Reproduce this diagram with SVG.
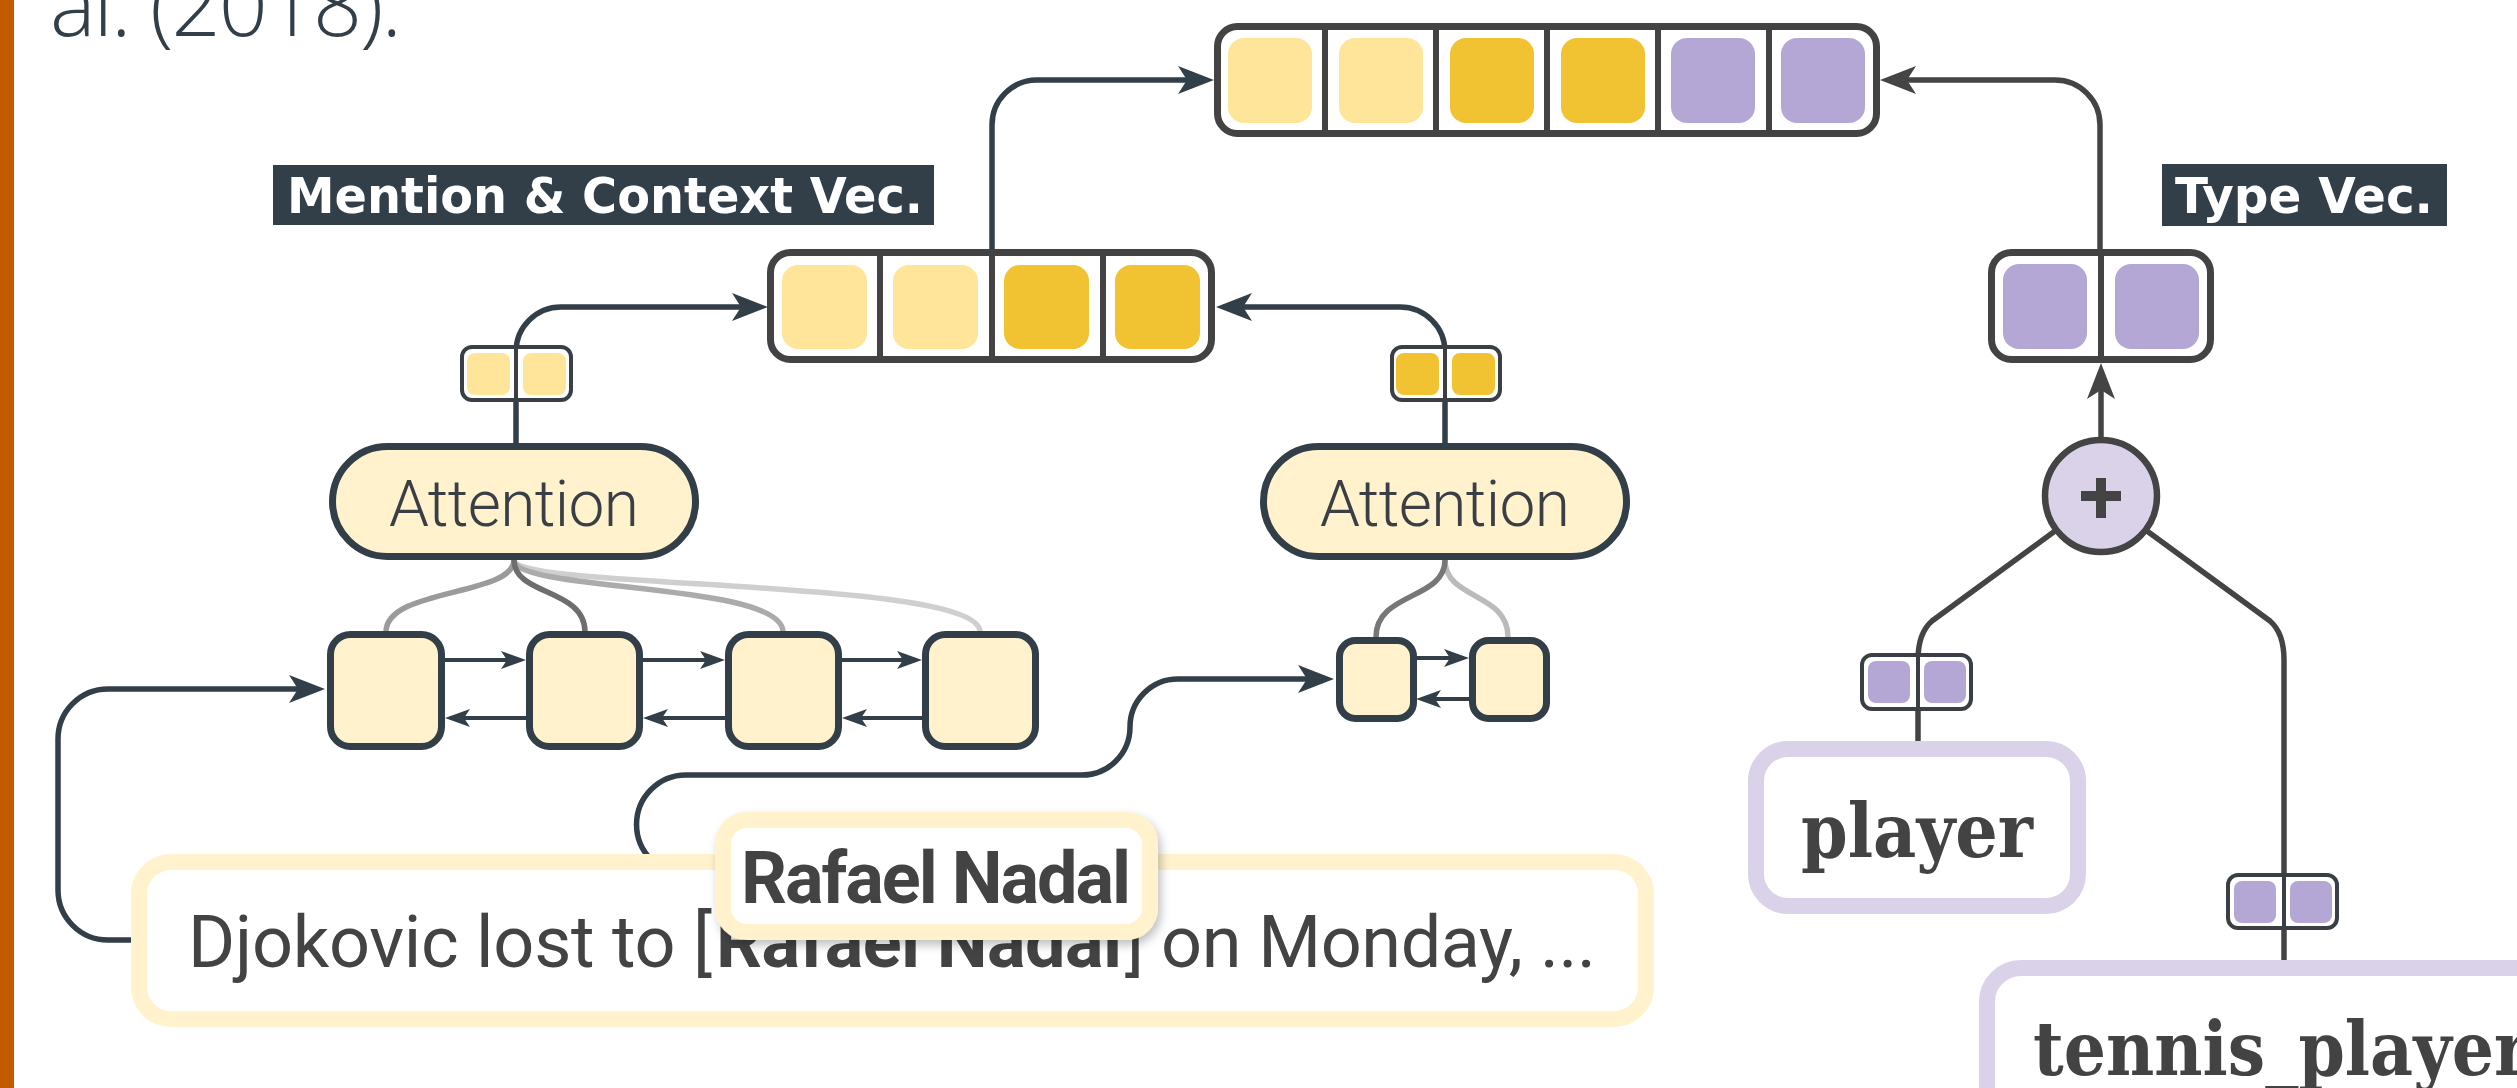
<svg xmlns="http://www.w3.org/2000/svg" width="2517" height="1088" viewBox="0 0 2517 1088">
  <style>
    .conn { fill: none; stroke: #323e48; stroke-width: 5.5; }
    .rnnlink { fill: none; stroke: #323e48; stroke-width: 4; }
    .branch { fill: none; stroke: #444444; stroke-width: 5.5; }
    .att { fill: none; stroke-width: 5.5; }
    .vec { fill: #ffffff; stroke: #434343; stroke-width: 7; }
    .vecs { fill: #ffffff; stroke: #3a3f46; stroke-width: 4; }
    .div { stroke: #434343; stroke-width: 6; }
    .divs { stroke: #3a3f46; stroke-width: 4; }
    .c-light { fill: #ffe599; }
    .c-gold { fill: #f1c232; }
    .c-purple { fill: #b4a7d6; }
    .rnn { fill: #fff2cc; stroke: #323e48; stroke-width: 7; }
    .pill { fill: #fff2cc; stroke: #323e48; stroke-width: 7; }
    .pilltext { font-family: Roboto, "Noto Sans", sans-serif; font-weight: 300; font-size: 64px; fill: #3a3f46; }
    .tag { fill: #323e48; }
    .tagtext { font-family: "DejaVu Sans", "Noto Sans", sans-serif; font-weight: bold; font-size: 50px; fill: #ffffff; }
    .sent { font-family: Roboto, "Noto Sans", sans-serif; font-size: 72px; fill: #434343; }
    .typebox { fill: #ffffff; stroke: #d9d2e9; stroke-width: 16; }
    .typetext { font-family: "DejaVu Serif", "Liberation Serif", serif; font-weight: bold; font-size: 74px; fill: #434343; }
  </style>
  <defs>
    <marker id="arrowL" viewBox="0 -15 38 30" markerWidth="38" markerHeight="30" refX="28" refY="0" markerUnits="userSpaceOnUse" orient="auto">
      <path d="M0,-14 L36,0 L0,14 L9,0 Z" fill="#323e48"/>
    </marker>
    <marker id="arrowS" viewBox="0 -10 27 20" markerWidth="27" markerHeight="20" refX="20" refY="0" markerUnits="userSpaceOnUse" orient="auto">
      <path d="M0,-9 L25,0 L0,9 L6,0 Z" fill="#323e48"/>
    </marker>
    <marker id="arrowG" viewBox="0 -15 38 30" markerWidth="38" markerHeight="30" refX="28" refY="0" markerUnits="userSpaceOnUse" orient="auto">
      <path d="M0,-14 L36,0 L0,14 L9,0 Z" fill="#444444"/>
    </marker>
    <filter id="shadow" x="-10%" y="-20%" width="130%" height="150%">
      <feDropShadow dx="3" dy="5" stdDeviation="5" flood-color="#000000" flood-opacity="0.25"/>
    </filter>
  </defs>

  <!-- page margin bar and caption tail -->
  <rect x="0" y="0" width="14" height="1088" fill="#c25a00"/>
  <text x="50" y="36" font-family="'Open Sans', 'Noto Sans', sans-serif" font-weight="300" font-size="86" fill="#323e48" textLength="352">al. (2018).</text>

  <!-- connectors -->
  <g id="connectors">
    <!-- attention weights, left encoder -->
    <path class="att" stroke="#cfcfcf" d="M514 560 C514 590 980 578 980 632"/>
    <path class="att" stroke="#ababab" d="M514 560 C514 592 783 582 783 632"/>
    <path class="att" stroke="#9b9b9b" d="M514 560 C514 596 386 588 386 632"/>
    <path class="att" stroke="#6e6e6e" d="M514 560 C514 596 585 588 585 632"/>
    <!-- attention weights, right encoder -->
    <path class="att" stroke="#bbbbbb" d="M1445 560 C1445 600 1508 592 1508 637"/>
    <path class="att" stroke="#777777" d="M1445 560 C1445 600 1376 592 1376 637"/>

    <!-- sentence / mention into the encoders -->
    <path class="conn" marker-end="url(#arrowL)" d="M131 940 H108 A50 50 0 0 1 58 890 V739 A50 50 0 0 1 108 689 H317"/>
    <path class="conn" marker-end="url(#arrowL)" d="M716 874 H686 A49.5 49.5 0 0 1 686 775 H1082 A48 48 0 0 0 1130 727 A48 48 0 0 1 1178 679 H1326"/>

    <!-- bidirectional recurrences -->
    <path class="rnnlink" marker-end="url(#arrowS)" d="M445 660 H521"/>
    <path class="rnnlink" marker-end="url(#arrowS)" d="M643 660 H720"/>
    <path class="rnnlink" marker-end="url(#arrowS)" d="M842 660 H917"/>
    <path class="rnnlink" marker-end="url(#arrowS)" d="M527 718 H450"/>
    <path class="rnnlink" marker-end="url(#arrowS)" d="M726 718 H648"/>
    <path class="rnnlink" marker-end="url(#arrowS)" d="M923 718 H847"/>
    <path class="rnnlink" marker-end="url(#arrowS)" d="M1416 658 H1464"/>
    <path class="rnnlink" marker-end="url(#arrowS)" d="M1469 699 H1421"/>

    <!-- attention outputs into the mention & context vector -->
    <path class="conn" marker-end="url(#arrowL)" d="M516 445 V352 A45 45 0 0 1 561 307 H760"/>
    <path class="conn" marker-end="url(#arrowL)" d="M1445 445 V352 A45 45 0 0 0 1400 307 H1224"/>

    <!-- into the joint vector -->
    <path class="conn" marker-end="url(#arrowL)" d="M992 252 V125 A45 45 0 0 1 1037 80 H1206"/>
    <path class="branch" marker-end="url(#arrowG)" d="M2100 252 V125 A45 45 0 0 0 2055 80 H1888"/>

    <!-- type embeddings summed -->
    <path class="branch" marker-end="url(#arrowG)" d="M2101 438 V371"/>
    <path class="branch" d="M2055 531 L1932 621 Q1918 633 1918 660 V741"/>
    <path class="branch" d="M2147 531 L2270 621 Q2284 633 2284 660 V960"/>
  </g>

  <!-- joint vector -->
  <g id="joint-vec">
    <rect class="vec" x="1217.5" y="26.5" width="659" height="107" rx="20"/>
    <line class="div" x1="1325" y1="27" x2="1325" y2="133"/>
    <line class="div" x1="1436" y1="27" x2="1436" y2="133"/>
    <line class="div" x1="1547" y1="27" x2="1547" y2="133"/>
    <line class="div" x1="1658" y1="27" x2="1658" y2="133"/>
    <line class="div" x1="1769" y1="27" x2="1769" y2="133"/>
    <rect class="c-light" x="1228" y="38" width="84" height="85" rx="16"/>
    <rect class="c-light" x="1339" y="38" width="84" height="85" rx="16"/>
    <rect class="c-gold" x="1450" y="38" width="84" height="85" rx="16"/>
    <rect class="c-gold" x="1561" y="38" width="84" height="85" rx="16"/>
    <rect class="c-purple" x="1671" y="38" width="84" height="85" rx="16"/>
    <rect class="c-purple" x="1781" y="38" width="84" height="85" rx="16"/>
  </g>

  <!-- mention & context vector -->
  <g id="mention-context-vec">
    <rect class="tag" x="273" y="165" width="661" height="60"/>
    <text class="tagtext" x="287" y="213" textLength="636" lengthAdjust="spacingAndGlyphs">Mention &amp; Context Vec.</text>
    <rect class="vec" x="770.5" y="252.5" width="441" height="107" rx="20"/>
    <line class="div" x1="880" y1="253" x2="880" y2="359"/>
    <line class="div" x1="992" y1="253" x2="992" y2="359"/>
    <line class="div" x1="1103" y1="253" x2="1103" y2="359"/>
    <rect class="c-light" x="782" y="265" width="85" height="84" rx="16"/>
    <rect class="c-light" x="893" y="265" width="85" height="84" rx="16"/>
    <rect class="c-gold" x="1004" y="265" width="85" height="84" rx="16"/>
    <rect class="c-gold" x="1115" y="265" width="85" height="84" rx="16"/>
  </g>

  <!-- type vector -->
  <g id="type-vec">
    <rect class="tag" x="2162" y="164" width="285" height="62"/>
    <text class="tagtext" x="2175" y="213" textLength="258" lengthAdjust="spacingAndGlyphs">Type Vec.</text>
    <rect class="vec" x="1991.5" y="252.5" width="219" height="107" rx="20"/>
    <line class="div" x1="2101" y1="253" x2="2101" y2="359"/>
    <rect class="c-purple" x="2003" y="264" width="84" height="85" rx="16"/>
    <rect class="c-purple" x="2115" y="264" width="84" height="85" rx="16"/>
  </g>

  <!-- mention attention output -->
  <g id="mention-att-vec">
    <rect class="vecs" x="462" y="347" width="109" height="53" rx="10"/>
    <line class="divs" x1="516" y1="347" x2="516" y2="400"/>
    <rect class="c-light" x="467" y="353" width="43" height="42" rx="8"/>
    <rect class="c-light" x="523" y="353" width="43" height="42" rx="8"/>
  </g>

  <!-- context attention output -->
  <g id="context-att-vec">
    <rect class="vecs" x="1392" y="347" width="108" height="53" rx="10"/>
    <line class="divs" x1="1445" y1="347" x2="1445" y2="400"/>
    <rect class="c-gold" x="1396" y="353" width="43" height="42" rx="8"/>
    <rect class="c-gold" x="1452" y="353" width="43" height="42" rx="8"/>
  </g>

  <!-- attention modules -->
  <g id="attention-left">
    <rect class="pill" x="332.5" y="446.5" width="363" height="110" rx="55"/>
    <text class="pilltext" x="514" y="526" text-anchor="middle" textLength="250">Attention</text>
  </g>
  <g id="attention-right">
    <rect class="pill" x="1263.5" y="446.5" width="363" height="110" rx="55"/>
    <text class="pilltext" x="1445" y="526" text-anchor="middle" textLength="250">Attention</text>
  </g>

  <!-- sentence encoder cells -->
  <g id="rnn-1"><rect class="rnn" x="330.5" y="634.5" width="111" height="112" rx="20"/></g>
  <g id="rnn-2"><rect class="rnn" x="529.5" y="634.5" width="110" height="112" rx="20"/></g>
  <g id="rnn-3"><rect class="rnn" x="728.5" y="634.5" width="110" height="112" rx="20"/></g>
  <g id="rnn-4"><rect class="rnn" x="925.5" y="634.5" width="110" height="112" rx="20"/></g>

  <!-- mention encoder cells -->
  <g id="rnn-m1"><rect class="rnn" x="1339.5" y="640.5" width="74" height="78" rx="16"/></g>
  <g id="rnn-m2"><rect class="rnn" x="1472.5" y="640.5" width="74" height="78" rx="16"/></g>

  <!-- input sentence -->
  <g id="sentence">
    <rect x="139" y="862" width="1507" height="157" rx="32" fill="#ffffff" stroke="#fff2cc" stroke-width="16"/>
    <text class="sent" x="188" y="967" textLength="524">Djokovic lost to [</text>
    <text class="sent" x="716" y="967" font-weight="bold" textLength="406">Rafael Nadal</text>
    <text class="sent" x="1125" y="967" textLength="471">] on Monday, ...</text>
  </g>

  <!-- extracted mention -->
  <g id="mention">
    <rect x="723" y="820" width="427" height="112" rx="24" fill="#ffffff" stroke="#fff2cc" stroke-width="16" filter="url(#shadow)"/>
    <text class="sent" x="741" y="903" font-weight="bold" font-size="74" textLength="390">Rafael Nadal</text>
  </g>

  <!-- type composition -->
  <g id="sum">
    <circle cx="2101" cy="496" r="56" fill="#d9d2e9" stroke="#444444" stroke-width="6.5"/>
    <rect x="2081" y="491" width="40" height="10" fill="#444444"/>
    <rect x="2096" y="478" width="10" height="40" fill="#444444"/>
  </g>

  <g id="player-vec">
    <rect class="vecs" x="1862" y="655" width="109" height="54" rx="10" stroke="#444444"/>
    <line class="divs" x1="1918" y1="655" x2="1918" y2="709" stroke="#444444"/>
    <rect class="c-purple" x="1868" y="661" width="42" height="42" rx="8"/>
    <rect class="c-purple" x="1924" y="661" width="42" height="42" rx="8"/>
  </g>
  <g id="player">
    <rect class="typebox" x="1756" y="749" width="322" height="157" rx="32"/>
    <text class="typetext" x="1801" y="857" textLength="232" lengthAdjust="spacingAndGlyphs">player</text>
  </g>

  <g id="tennis-player-vec">
    <rect class="vecs" x="2228" y="875" width="109" height="53" rx="10" stroke="#444444"/>
    <line class="divs" x1="2284" y1="875" x2="2284" y2="928" stroke="#444444"/>
    <rect class="c-purple" x="2234" y="881" width="42" height="42" rx="8"/>
    <rect class="c-purple" x="2290" y="881" width="42" height="42" rx="8"/>
  </g>
  <g id="tennis-player">
    <rect class="typebox" x="1987" y="968" width="640" height="200" rx="34"/>
    <text class="typetext" x="2033" y="1075" textLength="496" lengthAdjust="spacingAndGlyphs">tennis_player</text>
  </g>
</svg>
